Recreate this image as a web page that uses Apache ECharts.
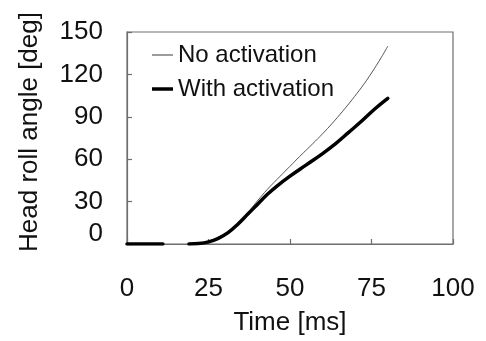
<!DOCTYPE html>
<html>
<head>
<meta charset="utf-8">
<script src="https://cdn.jsdelivr.net/npm/echarts@6/dist/echarts.min.js"></script>
<style>
html,body{margin:0;padding:0;background:#fff;}
#chart{width:486px;height:341px;}
</style>
</head>
<body>
<div id="chart"></div>
<script>
// Data
var seriesNames = ['No activation', 'With activation'];
var timeNo = [0, 11, 15, 19, 22, 25, 28, 31, 34, 37, 40, 43, 47, 50, 53, 57, 60, 63, 66, 69, 72, 75, 78, 80];
var angleNo = [0, 0, null, 0, 0.3, 1.5, 4, 8, 14, 22, 30.5, 38.5, 48, 55, 62, 71, 78, 85.5, 93.5, 102, 111, 121, 132, 140];
var timeWith = [0, 11, 15, 19, 22, 25, 28, 31, 34, 37, 40, 43, 46, 50, 55, 60, 64, 68, 72, 76, 80];
var angleWith = [0, 0, null, 0, 0.3, 1.5, 4, 8, 14, 21, 28, 35, 41, 48, 56, 64, 71, 79, 87, 95.5, 103];
var xTicks = [0, 25, 50, 75, 100];
var yTicks = [0, 30, 60, 90, 120, 150];

function pairs(xs, ys) {
  return xs.map(function (x, i) { return [x, ys[i] === null ? '-' : ys[i]]; });
}

var font = '"Liberation Sans", Arial, sans-serif';
var axisColor = '#6e6e6e';
var txt = '#111';
var chart = echarts.init(document.getElementById('chart'), null, {renderer: 'canvas'});
chart.setOption({
  animation: false,
  backgroundColor: '#fff',
  textStyle: {fontFamily: font},
  grid: {left: 127, top: 32, width: 326, height: 216, show: true, borderColor: axisColor, borderWidth: 1.2, backgroundColor: 'transparent'},
  legend: [
    {
      left: 152, top: 43, padding: 0, itemWidth: 21, itemHeight: 1.3,
      textStyle: {fontSize: 24, color: txt, fontFamily: font},
      data: [{name: seriesNames[0], icon: 'rect', itemStyle: {color: '#666'}}]
    },
    {
      left: 152, top: 77, padding: 0, itemWidth: 21, itemHeight: 3.5,
      textStyle: {fontSize: 24, color: txt, fontFamily: font},
      data: [{name: seriesNames[1], icon: 'rect', itemStyle: {color: '#000'}}]
    }
  ],
  xAxis: {
    type: 'value', min: xTicks[0], max: xTicks[xTicks.length - 1], interval: 25,
    name: 'Time [ms]', nameLocation: 'middle', nameGap: 66,
    nameTextStyle: {fontSize: 26, color: txt, fontFamily: font},
    axisLine: {show: true, lineStyle: {color: axisColor, width: 1.2}},
    axisTick: {show: true, inside: true, length: 5, lineStyle: {color: axisColor, width: 1.2}},
    axisLabel: {fontSize: 26, color: txt, margin: 32, fontFamily: font},
    splitLine: {show: false}
  },
  yAxis: {
    type: 'value', min: yTicks[0], max: yTicks[yTicks.length - 1], interval: 30,
    name: 'Head roll angle [deg]', nameLocation: 'middle', nameGap: 84, nameRotate: 90,
    nameTextStyle: {fontSize: 26, color: txt, fontFamily: font, padding: [0, 0, 0, 12]},
    axisLine: {show: true, lineStyle: {color: axisColor, width: 1.2}},
    axisTick: {show: true, inside: true, length: 5, lineStyle: {color: axisColor, width: 1.2}},
    axisLabel: {
      fontSize: 26, color: txt, margin: 24, fontFamily: font,
      formatter: function (v) { return v === 0 ? '{z|0}' : String(v); },
      rich: {z: {fontSize: 26, color: txt, fontFamily: font, padding: [0, 0, 20, 0]}}
    },
    splitLine: {show: false}
  },
  series: [
    {
      name: seriesNames[0], type: 'line', data: pairs(timeNo, angleNo),
      showSymbol: false, symbol: 'none', smooth: 0.4, connectNulls: false,
      lineStyle: {color: '#555', width: 1}, itemStyle: {color: '#555'}, z: 2
    },
    {
      name: seriesNames[1], type: 'line', data: pairs(timeWith, angleWith),
      showSymbol: false, symbol: 'none', smooth: 0.4, connectNulls: false,
      lineStyle: {color: '#000', width: 3.5, cap: 'round'}, itemStyle: {color: '#000'}, z: 3
    }
  ]
});
</script>
</body>
</html>
